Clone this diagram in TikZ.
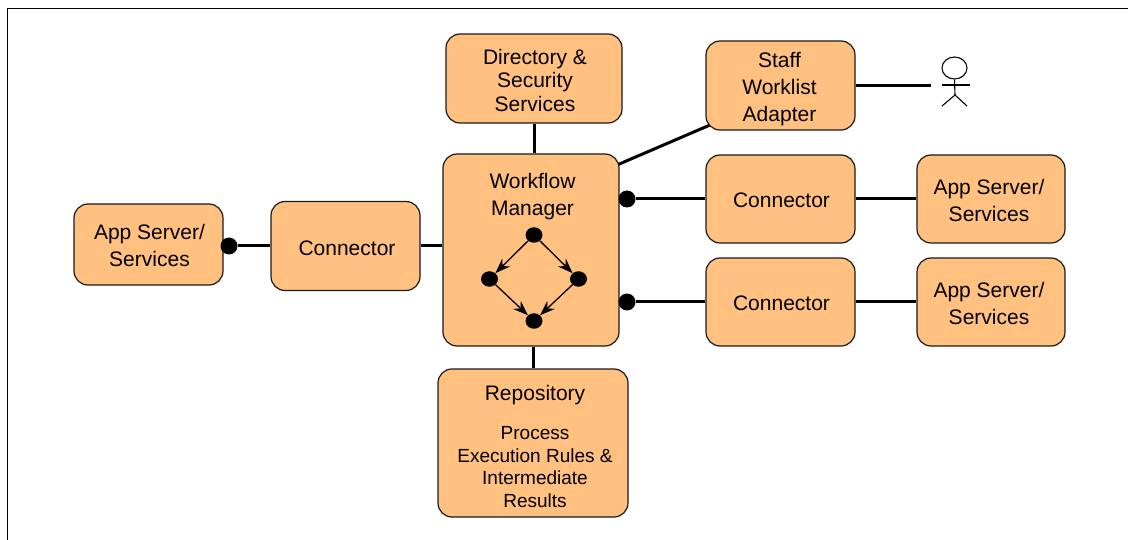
\documentclass[tikz,border=0pt]{standalone}
\usepackage{fontspec}
\setmainfont{Liberation Sans}
\usetikzlibrary{arrows.meta,backgrounds,shapes.geometric}
\definecolor{boxfill}{HTML}{FFC080}
\definecolor{boxline}{HTML}{1A1A1A}
\tikzset{
  x=1pt,y=-1pt,
  box/.style={draw=boxline,fill=boxfill,line width=1.2pt,rounded corners=14pt,inner sep=0pt},
  wire/.style={draw=black,line width=3pt},
  dot/.style={circle,fill=black,draw=none,minimum size=17pt,inner sep=0pt},
  tinydot/.style={ellipse,fill=black,draw=none,inner sep=0pt,minimum width=17pt,minimum height=15.5pt},
  flow/.style={draw=black,line width=1.3pt,-{Stealth[length=15pt,width=11pt]}},
  stick/.style={draw=black,line width=1.1pt},
  boxtext/.style={inner sep=0pt,align=center,font=\fontsize{21}{27}\selectfont},
}
\begin{document}
\begin{tikzpicture}
\useasboundingbox (0,0) rectangle (1128,540);
\draw[line width=1.3pt] (7.5,540) -- (7.5,8.5) -- (1128,8.5);

% boxes
\node[box,minimum width=176pt,minimum height=89pt] (dir) at (534,78.5) {};
\node[box,minimum width=149pt,minimum height=89pt] (staff) at (780.5,85.5) {};
\node[box,minimum width=176pt,minimum height=192pt] (wm) at (531,250) {};
\node[box,minimum width=149pt,minimum height=88pt] (c1) at (780.5,199) {};
\node[box,minimum width=148pt,minimum height=88pt] (a1) at (991,199) {};
\node[box,minimum width=149pt,minimum height=88pt] (c2) at (780.5,302) {};
\node[box,minimum width=148pt,minimum height=88pt] (a2) at (991,302) {};
\node[box,minimum width=149pt,minimum height=81pt] (la) at (148.5,244.5) {};
\node[box,minimum width=149pt,minimum height=89pt] (lc) at (345.5,246) {};
\node[box,minimum width=190pt,minimum height=148pt] (repo) at (533,443) {};

% texts
\node[boxtext,font=\fontsize{21}{23.3}\selectfont] (tdir) at (535,80.3) {Directory \&\\Security\\Services};
\node[boxtext] (tstaff) at (779.5,89) {Staff\\Worklist\\Adapter};
\node[boxtext] (twm) at (532.5,197) {Workflow\\Manager};
\node[boxtext] (tc1) at (781.5,200) {Connector};
\node[boxtext] (tc2) at (781.5,303) {Connector};
\node[boxtext] (tlc) at (347,248) {Connector};
\node[boxtext] (ta1) at (989,200.5) {App Server/\\Services};
\node[boxtext] (ta2) at (989,303.5) {App Server/\\Services};
\node[boxtext] (tla) at (149.5,245) {App Server/\\Services};
\node[boxtext] (trepo) at (535,395) {Repository};
\node[boxtext,font=\fontsize{19}{22.7}\selectfont] (tproc) at (535,467) {Process\\Execution Rules \&\\Intermediate\\Results};

% dots
\node[dot] (d1) at (627,199) {};
\node[dot] (d2) at (627,302) {};
\node[dot] (d3) at (229,246) {};
\node[tinydot] (f1) at (534,235) {};
\node[tinydot] (f2) at (489.5,279) {};
\node[tinydot] (f3) at (578.5,279) {};
\node[tinydot] (f4) at (534,321) {};

% connectors
\coordinate (wmne) at (617,165);
\coordinate (staffsw) at (710,125);
\coordinate (personend) at (931,86);
\begin{scope}[on background layer]
\draw[wire] (dir.south) -- (dir.south |- wm.north);
\draw[wire] (repo.north) -- (repo.north |- wm.south);
\draw[wire] (wmne) -- (staffsw);
\draw[wire] (staff.east |- personend) -- (personend);
\draw[wire] (d1) -- (c1.west);
\draw[wire] (d2) -- (c2.west);
\draw[wire] (c1) -- (a1);
\draw[wire] (c2) -- (a2);
\draw[wire] (d3) -- (lc.west);
\draw[wire] (lc.east) -- (lc.east -| wm.west);
\end{scope}
\draw[flow] (f1) -- (f2);
\draw[flow] (f1) -- (f3);
\draw[flow] (f2) -- (f4);
\draw[flow] (f3) -- (f4);

% person
\node[ellipse,stick,fill=white,minimum width=25pt,minimum height=22pt,inner sep=0pt] (head) at (954.5,68) {};
\coordinate (hip) at (955,95);
\coordinate (shl) at (942,85);
\coordinate (shr) at (970,85);
\coordinate (footl) at (942,106);
\coordinate (footr) at (967,106);
\draw[stick] (head.south) -- (hip);
\draw[stick] (shl) -- (shr);
\draw[stick] (footl) -- (hip) -- (footr);
\end{tikzpicture}
\end{document}
